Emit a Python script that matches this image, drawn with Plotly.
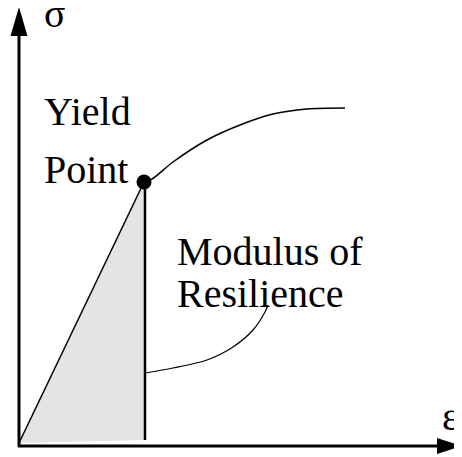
import plotly.graph_objects as go

# Data (diagram units: strain along x, stress along y)
elastic_x = [0, 125]
elastic_y = [3, 264]
fill_x = [0, 125, 126, 0]
fill_y = [3, 264, 6, 3]
unload_x = [126, 126]
unload_y = [6, 264]
yield_x = [125]
yield_y = [264]
plastic_x = [125, 133, 154, 188, 221, 254, 288, 326]
plastic_y = [264, 267, 284, 306, 321, 332, 337, 338]
leader_x = [126, 154, 188, 214, 234, 246, 249]
leader_y = [73, 78, 86, 99, 116, 134, 141]
axis_end_x = 418
axis_end_y = 410
arrow_tip_x = 443
arrow_tip_y = 439

FONT = "Liberation Serif, Times New Roman, serif"
fig = go.Figure()

fig.add_trace(go.Scatter(x=fill_x, y=fill_y, fill="toself", fillcolor="#e4e4e4",
                         line=dict(width=0), mode="lines", hoverinfo="skip"))
fig.add_trace(go.Scatter(x=elastic_x, y=elastic_y, mode="lines",
                         line=dict(color="black", width=1.5)))
fig.add_trace(go.Scatter(x=unload_x, y=unload_y, mode="lines",
                         line=dict(color="black", width=2.5)))
fig.add_trace(go.Scatter(x=plastic_x, y=plastic_y, mode="lines",
                         line=dict(color="black", width=1.5, shape="spline", smoothing=0.8)))
fig.add_trace(go.Scatter(x=leader_x, y=leader_y, mode="lines",
                         line=dict(color="black", width=1.2, shape="spline", smoothing=0.8)))
fig.add_trace(go.Scatter(x=yield_x, y=yield_y, mode="markers",
                         marker=dict(color="black", size=15)))

# axes lines
fig.add_trace(go.Scatter(x=[0, 0], y=[-1, axis_end_y], mode="lines",
                         line=dict(color="black", width=3)))
fig.add_trace(go.Scatter(x=[-1, axis_end_x], y=[0, 0], mode="lines",
                         line=dict(color="black", width=3)))
# arrowheads
fig.add_shape(type="path", xref="x", yref="y",
              path=f"M -8.5 {axis_end_y} L 8.5 {axis_end_y} L 0 {arrow_tip_y} Z",
              fillcolor="black", line=dict(width=0))
fig.add_shape(type="path", xref="x", yref="y",
              path=f"M {axis_end_x} -8 L {axis_end_x} 8 L {arrow_tip_x} 0 Z",
              fillcolor="black", line=dict(width=0))

texts = [("σ", 23, 433, "left"), ("ε", 442, 30, "right"), ("Yield", 23, 335, "left"),
         ("Point", 23, 277, "left"), ("Modulus of", 156, 195, "left"),
         ("Resilience", 156, 153, "left")]
for t, x, y, xa in texts:
    fig.add_annotation(x=x, y=y, text=t, showarrow=False, xanchor=xa, yanchor="middle",
                       font=dict(family=FONT, size=40, color="black"))

# page body has an 8px margin, so the figure is 8px smaller than the window
fig.update_layout(width=454, height=449, autosize=False,
                  margin=dict(l=0, r=0, t=0, b=0),
                  paper_bgcolor="white", plot_bgcolor="white", showlegend=False,
                  xaxis=dict(range=[-11, 443], visible=False),
                  yaxis=dict(range=[-11, 438], visible=False))
fig.write_html("out.html")
